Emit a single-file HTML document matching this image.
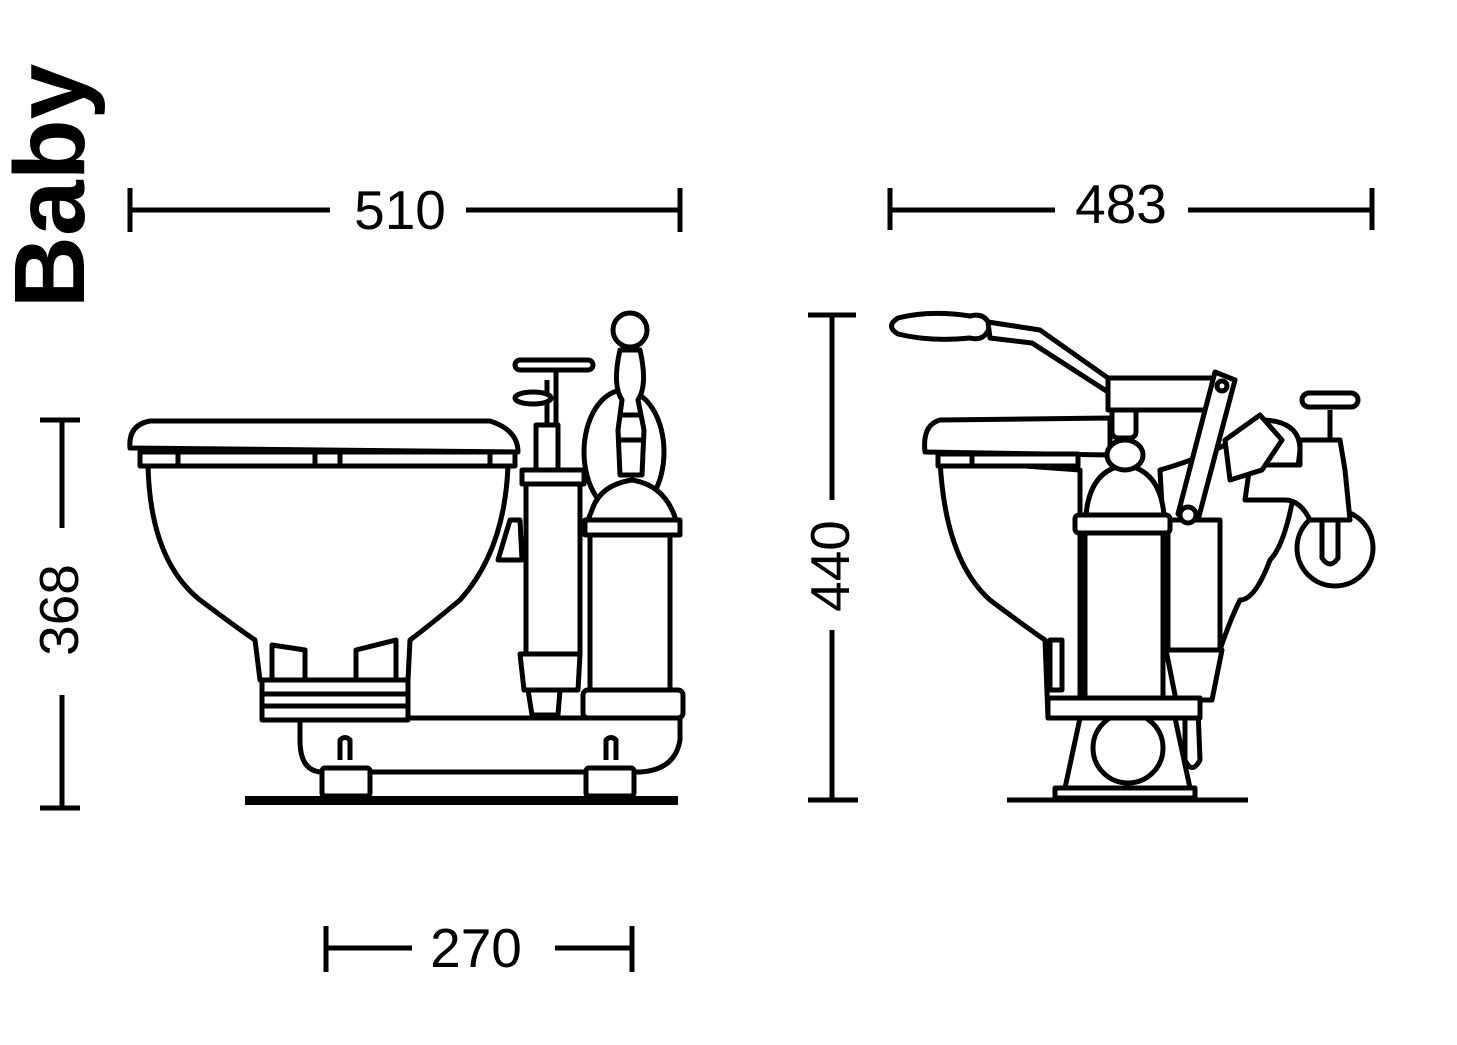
<!DOCTYPE html>
<html><head><style>html,body{margin:0;padding:0;background:#fff}svg{display:block}</style></head>
<body>
<svg width="1457" height="1045" viewBox="0 0 1457 1045" xmlns="http://www.w3.org/2000/svg">
<rect width="1457" height="1045" fill="#fff"/>
<g font-family="Liberation Sans, Arial, sans-serif" fill="#000">
<text transform="translate(84,186) rotate(-90)" text-anchor="middle" font-size="100" font-weight="bold">Baby</text>
<text x="400" y="229" text-anchor="middle" font-size="55">510</text>
<text x="1121" y="223" text-anchor="middle" font-size="55">483</text>
<text x="476" y="967" text-anchor="middle" font-size="55">270</text>
<text transform="translate(78,610) rotate(-90)" text-anchor="middle" font-size="55">368</text>
<text transform="translate(849,566) rotate(-90)" text-anchor="middle" font-size="55">440</text>
</g>
<g stroke="#000" stroke-width="5" fill="none">
<line x1="130" y1="210" x2="330" y2="210"/><line x1="466" y1="210" x2="680" y2="210"/>
<line x1="130" y1="188" x2="130" y2="232"/><line x1="680" y1="188" x2="680" y2="232"/>
<line x1="890" y1="210" x2="1055" y2="210"/><line x1="1188" y1="210" x2="1372" y2="210"/>
<line x1="890" y1="188" x2="890" y2="230"/><line x1="1372" y1="188" x2="1372" y2="230"/>
<line x1="326" y1="948" x2="412" y2="948"/><line x1="555" y1="948" x2="632" y2="948"/>
<line x1="326" y1="926" x2="326" y2="972"/><line x1="632" y1="926" x2="632" y2="972"/>
<line x1="62" y1="420" x2="62" y2="528"/><line x1="62" y1="695" x2="62" y2="808"/>
<line x1="40" y1="420" x2="80" y2="420"/><line x1="40" y1="808" x2="80" y2="808"/>
<line x1="832" y1="315" x2="832" y2="500"/><line x1="832" y1="630" x2="832" y2="800"/>
<line x1="808" y1="315" x2="856" y2="315"/><line x1="808" y1="800" x2="858" y2="800"/>
</g>

<g stroke="#000" stroke-width="5" fill="#fff" stroke-linejoin="round">
<path d="M300 718 L680 718 L680 740 Q675 770 640 772 L320 772 Q300 770 300 740 Z"/>
<rect x="322" y="768" width="48" height="28" rx="3"/>
<rect x="586" y="768" width="48" height="28" rx="3"/>
<path d="M340 760 L340 740 Q345 735 350 740 L350 760" />
<path d="M606 760 L606 740 Q611 735 616 740 L616 760" />
<path d="M148 465 Q150 560 200 600 Q240 630 255 640 L260 680 L408 680 L410 640 Q430 625 460 600 Q505 550 508 465 Z"/>
<rect x="262" y="680" width="146" height="40"/>
<line x1="264" y1="694" x2="406" y2="694"/><line x1="264" y1="706" x2="406" y2="706"/>
<path d="M272 645 L305 650 L305 680 L272 680 Z"/>
<path d="M356 650 L396 640 L396 680 L356 680 Z"/>
<path d="M130 448 Q128 425 150 421 L490 421 Q518 430 518 452 Z"/>
<rect x="140" y="452" width="375" height="14"/>
<line x1="178" y1="452" x2="178" y2="466"/><line x1="315" y1="452" x2="315" y2="466"/><line x1="340" y1="452" x2="340" y2="466"/><line x1="490" y1="452" x2="490" y2="466"/>
<path d="M510 520 L520 520 L522 560 L498 560 Z"/>
<rect x="522" y="470" width="62" height="14"/>
<rect x="526" y="484" width="54" height="170"/>
<path d="M520 654 L580 654 L578 690 L524 690 Z"/>
<path d="M528 690 L560 690 L558 715 L532 715 Z"/>
<rect x="536" y="425" width="22" height="45"/>
<line x1="547" y1="380" x2="547" y2="425"/>
<line x1="556" y1="370" x2="556" y2="425"/>
<rect x="515" y="360" width="78" height="10" rx="5"/>
<ellipse cx="533" cy="398" rx="18" ry="6"/>
<ellipse cx="624" cy="452" rx="40" ry="62"/>
<path d="M592 510 Q600 485 632 480 Q665 485 676 520 L588 520 Z"/>
<rect x="585" y="520" width="95" height="15"/>
<rect x="590" y="535" width="80" height="155"/>
<rect x="583" y="690" width="100" height="28" rx="5"/>
<path d="M620 350 Q612 385 622 400 L618 430 L620 475 L642 475 L644 430 L638 400 Q648 385 640 350 Z"/>
<line x1="620" y1="415" x2="640" y2="415"/><line x1="620" y1="440" x2="642" y2="440"/>
<circle cx="630" cy="330" r="17"/>
</g>
<rect x="245" y="796" width="433" height="9" fill="#000"/>

<g stroke="#000" stroke-width="5" fill="#fff" stroke-linejoin="round">
<rect x="1055" y="788" width="140" height="10"/>
<path d="M1080 718 L1065 788 L1190 788 L1175 718 Z"/>
<circle cx="1128" cy="748" r="35"/>
<path d="M1185 710 L1198 710 L1200 760 Q1192 775 1185 760 Z"/>
<path d="M940 460 Q945 560 990 600 Q1030 630 1045 640 L1048 718 L1080 718 L1080 470 Z"/>
<path d="M1050 640 L1062 640 L1062 690 L1050 690 Z"/>
<path d="M925 452 Q922 425 940 420 L1110 418 L1110 455 Z"/>
<rect x="938" y="454" width="140" height="12"/>
<line x1="972" y1="454" x2="972" y2="466"/>
<path d="M1160 470 Q1230 450 1260 420 Q1300 420 1300 450 Q1290 540 1270 560 Q1255 600 1240 600 Q1230 620 1220 650 L1170 650 Z"/>
<circle cx="1335" cy="548" r="38"/>
<path d="M1322 520 L1322 558 Q1330 570 1338 558 L1338 520 Z"/>
<path d="M1300 440 L1340 440 L1345 470 L1350 520 L1310 520 Q1300 500 1285 500 L1245 500 L1250 465 L1300 465 Z"/>
<line x1="1330" y1="410" x2="1330" y2="440"/>
<rect x="1302" y="393" width="56" height="14" rx="7"/>
<path d="M1225 440 L1260 415 L1282 440 L1262 470 L1230 480 Z"/>
<rect x="1168" y="520" width="52" height="130"/>
<path d="M1166 650 L1222 650 L1212 700 L1176 700 Z"/>
<path d="M1086 515 Q1090 470 1125 465 Q1160 470 1164 515 Z"/>
<rect x="1075" y="515" width="95" height="18" rx="4"/>
<rect x="1085" y="533" width="78" height="165"/>
<rect x="1048" y="698" width="152" height="20"/>
<ellipse cx="1125" cy="455" rx="18" ry="15"/>
<rect x="1112" y="378" width="24" height="60" rx="6"/>
<path d="M898 318 Q930 310 970 316 Q985 312 990 326 Q985 342 970 338 Q930 342 898 334 Q885 326 898 318 Z"/>
<path d="M988 322 L1040 330 L1108 378 L1108 392 L1032 343 L990 338 Z"/>
<rect x="1108" y="378" width="115" height="32"/>
<path d="M1215 372 L1235 380 L1198 520 L1178 514 Z"/>
<circle cx="1188" cy="515" r="8"/>
<circle cx="1222" cy="386" r="5"/>
</g>
<line x1="1007" y1="800" x2="1248" y2="800" stroke="#000" stroke-width="5"/>
</svg>
</body></html>
